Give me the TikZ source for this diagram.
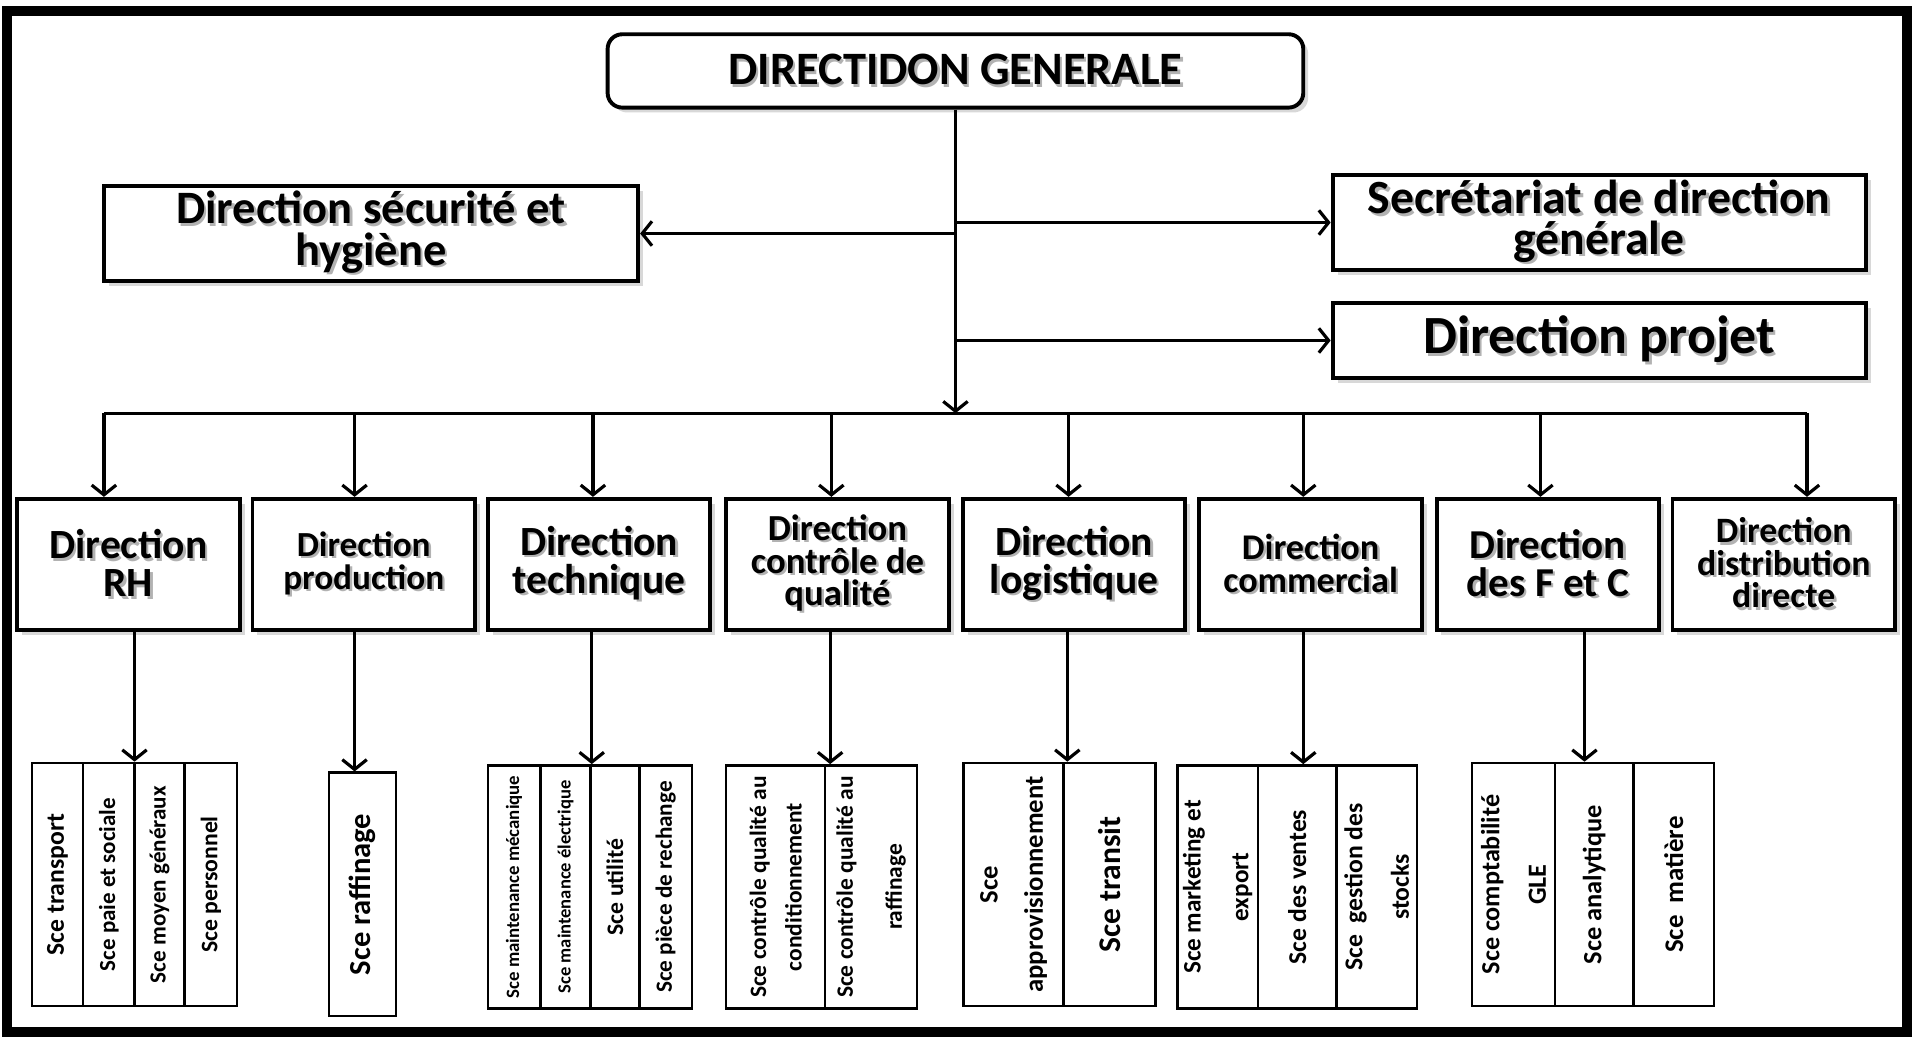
\documentclass[tikz,border=0pt]{standalone}
\usepackage{fontspec}
\setmainfont{Carlito}
\usetikzlibrary{arrows.meta,shadows}

% bold text at a given size / line spacing
\newcommand\setfs[2]{\fontsize{#1}{#2}\selectfont\bfseries}
% one line of text with a soft offset shadow
\newcommand\shl[1]{\leavevmode\rlap{\kern1pt\raisebox{-1pt}{\textcolor{black!30}{#1}}}#1}

\tikzset{
  frame/.style={line width=4pt},
  conn/.style={line width=1.3pt},
  link/.style={conn, -{Straight Barb[length=4pt,width=10pt]}},
  topbox/.style={draw, line width=1.6pt, fill=white, align=center, inner sep=0pt,
    drop shadow={shadow xshift=2pt, shadow yshift=-2pt, opacity=0.3}},
  dirbox/.style={topbox, minimum width=91pt, minimum height=53.5pt},
  svc/.style={draw, line width=1pt, rotate=90, align=center, inner sep=0pt,
    minimum width=99.5pt},
}

\begin{document}
\begin{tikzpicture}[x=0.5pt,y=-0.5pt]
\useasboundingbox (0,0) rectangle (1568,848);
\fill[white] (0,0) rectangle (1568,848);
\draw[frame] (6,9) rectangle (1560,844);

% general management and its attached units
\node[topbox, rounded corners=6pt, minimum width=284.5pt, minimum height=30pt,
  font=\setfs{19}{22}] (dg) at (781.5,58) {\shl{DIRECTIDON GENERALE}};
\node[topbox, minimum width=218.5pt, minimum height=39pt, font=\setfs{19}{17}]
  (secu) at (303.5,191) {\shl{Direction sécurité et}\\\shl{hygiène}};
\node[topbox, minimum width=218pt, minimum height=39pt, font=\setfs{19.5}{16.5}]
  (secr) at (1308,182) {\shl{Secrétariat de direction}\\\shl{générale}};
\node[topbox, minimum width=218pt, minimum height=30.5pt, font=\setfs{22}{24}]
  (proj) at (1308,278.5) {\shl{Direction projet}};

% directions
\node[dirbox, font=\setfs{17}{15.5}] (d1) at (105,461.5) {\shl{Direction}\\\shl{RH}};
\node[dirbox, font=\setfs{14.4}{13.5}] (d2) at (297.5,461.5) {\shl{Direction}\\\shl{production}};
\node[dirbox, font=\setfs{17}{15.5}] (d3) at (490,461.5) {\shl{Direction}\\\shl{technique}};
\node[dirbox, font=\setfs{15}{13.3}] (d4) at (685,461.5) {\shl{Direction}\\\shl{contrôle de}\\\shl{qualité}};
\node[dirbox, font=\setfs{17}{15.5}] (d5) at (878.5,461.5) {\shl{Direction}\\\shl{logistique}};
\node[dirbox, font=\setfs{14.8}{13.5}] (d6) at (1072,461.5) {\shl{Direction}\\\shl{commercial}};
\node[dirbox, font=\setfs{16.8}{15.5}] (d7) at (1266,461.5) {\shl{Direction}\\\shl{des F et C}};
\node[dirbox, font=\setfs{14.6}{13.3}] (d8) at (1459,461.5) {\shl{Direction}\\\shl{distribution}\\\shl{directe}};

% trunk and side branches
\coordinate (t1) at (85,338);
\coordinate (t2) at (290,338);
\coordinate (t3) at (485,338);
\coordinate (t4) at (680,338);
\coordinate (t5) at (874,338);
\coordinate (t6) at (1066,338);
\coordinate (t7) at (1260,338);
\coordinate (t8) at (1478,338);
\draw[link] (dg.south) -- (dg.south |- t1);
\draw[link] (dg.south |- secu.east) -- (secu.east);
\draw[link] (dg.south |- secr.west) -- (secr.west);
\draw[link] (dg.south |- proj.west) -- (proj.west);
\draw[conn] (t1) -- (t8);
\foreach \i in {1,...,8} \draw[link] (t\i) -- (t\i |- d\i.north);

% services
\node[svc, minimum height=21pt, font=\setfs{10.5}{12}] (r1) at (47,723.5) {Sce transport};
\node[svc, minimum height=21pt, font=\setfs{9.4}{11}] (r2) at (89,723.5) {Sce paie et sociale};
\node[svc, minimum height=20.5pt, font=\setfs{9.45}{11}] (r3) at (130.5,723.5) {Sce moyen généraux};
\node[svc, minimum height=21.5pt, font=\setfs{9.7}{11}] (r4) at (172.5,723.5) {Sce personnel};

\node[svc, minimum height=27.5pt, font=\setfs{12.5}{14}] (p1) at (296.5,731.5) {Sce raffinage};

\node[svc, minimum height=21.5pt, font=\setfs{7.7}{9}] (k1) at (420.5,725.5) {Sce maintenance mécanique};
\node[svc, minimum height=20.5pt, font=\setfs{7.6}{9}] (k2) at (462.5,725.5) {Sce maintenance électrique};
\node[svc, minimum height=20pt, font=\setfs{9.7}{11}] (k3) at (503,725.5) {Sce utilité};
\node[svc, minimum height=21.5pt, font=\setfs{9.5}{11}] (k4) at (544.5,725.5) {Sce pièce de rechange};

\node[svc, minimum height=40.5pt, font=\setfs{9.6}{14.5}] (q1) at (634.5,725.5) {Sce contrôle qualité au\\conditionnement};
\node[svc, minimum height=37.5pt, font=\setfs{9.6}{20}] (q2) at (712.5,725.5) {Sce contrôle qualité au\\raffinage};

\node[svc, minimum height=41pt, font=\setfs{10.9}{18.5}] (l1) at (829,723.5) {Sce\\approvisionnement};
\node[svc, minimum height=37.5pt, font=\setfs{12.9}{14}] (l2) at (907.5,723.5) {Sce transit};

\node[svc, minimum height=33pt, font=\setfs{10.3}{19.5}] (c1) at (996,725.5) {Sce marketing et\\export};
\node[svc, minimum height=32pt, font=\setfs{10.5}{12}] (c2) at (1061,725.5) {Sce des ventes};
\node[svc, minimum height=33pt, font=\setfs{10.5}{19}] (c3) at (1126,725.5) {Sce~ gestion des\\stocks};

\node[svc, minimum height=34pt, font=\setfs{10.7}{19}] (f1) at (1238,723.5) {Sce comptabilité\\GLE};
\node[svc, minimum height=32pt, font=\setfs{10.8}{12}] (f2) at (1304,723.5) {Sce analytique};
\node[svc, minimum height=33pt, font=\setfs{11}{12}] (f3) at (1369,723.5) {Sce~ matière};

% links from directions down to their services
\coordinate (o1) at (110,515);
\coordinate (o2) at (290,515);
\coordinate (o3) at (484,515);
\coordinate (o4) at (679,515);
\coordinate (o5) at (873,515);
\coordinate (o6) at (1066,515);
\coordinate (o7) at (1296,515);
\draw[link] (o1) -- (o1 |- r3.east);
\draw[link] (o2) -- (o2 |- p1.east);
\draw[link] (o3) -- (o3 |- k3.east);
\draw[link] (o4) -- (o4 |- q2.east);
\draw[link] (o5) -- (o5 |- l2.east);
\draw[link] (o6) -- (o6 |- c2.east);
\draw[link] (o7) -- (o7 |- f2.east);
\end{tikzpicture}
\end{document}
